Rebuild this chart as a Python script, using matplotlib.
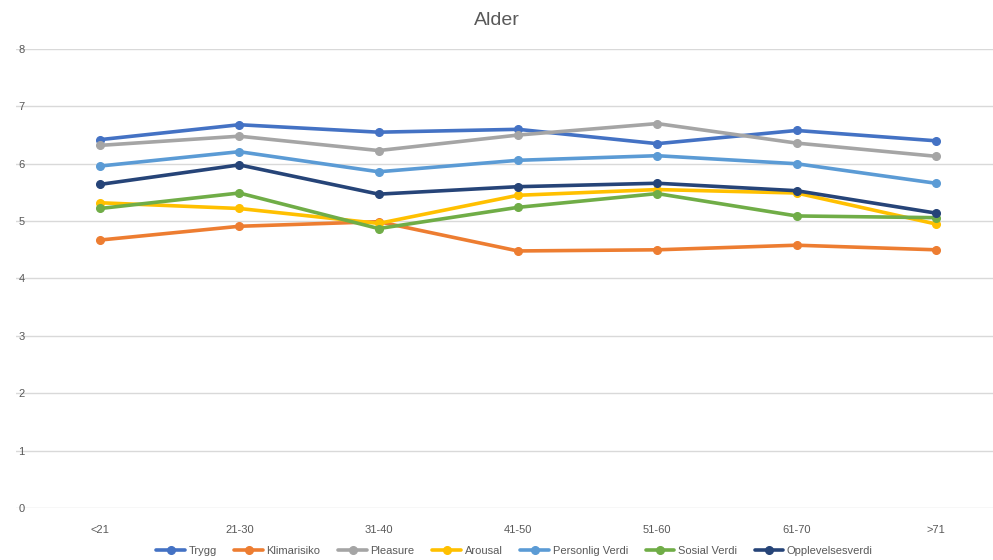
import matplotlib.pyplot as plt
import numpy as np

plt.rcParams['font.family'] = ['Liberation Sans Narrow', 'Liberation Sans', 'DejaVu Sans']

kategorier = ['<21', '21-30', '31-40', '41-50', '51-60', '61-70', '>71']

trygg = [6.42, 6.68, 6.55, 6.60, 6.35, 6.58, 6.40]
klimarisiko = [4.67, 4.91, 4.99, 4.48, 4.50, 4.58, 4.50]
pleasure = [6.32, 6.48, 6.23, 6.50, 6.70, 6.36, 6.13]
arousal = [5.32, 5.22, 4.96, 5.45, 5.55, 5.49, 4.95]
personlig_verdi = [5.96, 6.21, 5.86, 6.06, 6.14, 6.00, 5.66]
sosial_verdi = [5.22, 5.49, 4.87, 5.24, 5.48, 5.09, 5.06]
opplevelsesverdi = [5.64, 5.98, 5.47, 5.60, 5.66, 5.53, 5.14]

serier = [
    ('Trygg', trygg, '#4472C4'),
    ('Klimarisiko', klimarisiko, '#ED7D31'),
    ('Pleasure', pleasure, '#A5A5A5'),
    ('Arousal', arousal, '#FFC000'),
    ('Personlig Verdi', personlig_verdi, '#5B9BD5'),
    ('Sosial Verdi', sosial_verdi, '#70AD47'),
    ('Opplevelsesverdi', opplevelsesverdi, '#264478'),
]

fig = plt.figure(figsize=(9.93, 5.6), dpi=100)
ax = fig.add_axes([0.0161, 0.0929, 0.9839, 0.8196])

x = np.arange(len(kategorier))
for navn, verdier, farge in serier:
    ax.plot(x, verdier, color=farge, linewidth=2.6, marker='o', markersize=5.5,
            label=navn, solid_capstyle='round')

ax.set_xlim(-0.603, 6.41)
ax.set_ylim(0, 8)
ax.set_yticks(range(0, 9))
ax.set_xticks(x)
ax.set_xticklabels(kategorier)
ax.grid(axis='y', color='#D9D9D9', linewidth=1)
ax.set_axisbelow(True)
for s in ax.spines.values():
    s.set_visible(False)
ax.tick_params(length=0, colors='#595959', labelsize=8)
ax.tick_params(axis='y', pad=-4)
ax.tick_params(axis='x', pad=12)
for lbl in ax.get_yticklabels():
    lbl.set_horizontalalignment('center')

fig.text(0.5, 0.963, 'Alder', ha='center', va='center', fontsize=14, color='#595959')

fig.legend(loc='center', bbox_to_anchor=(0.518, 0.016), ncol=7, frameon=False,
           fontsize=8, handlelength=2.6, columnspacing=1.6, handletextpad=0.3,
           labelcolor='#595959')

fig.savefig('out.png', dpi=100)
